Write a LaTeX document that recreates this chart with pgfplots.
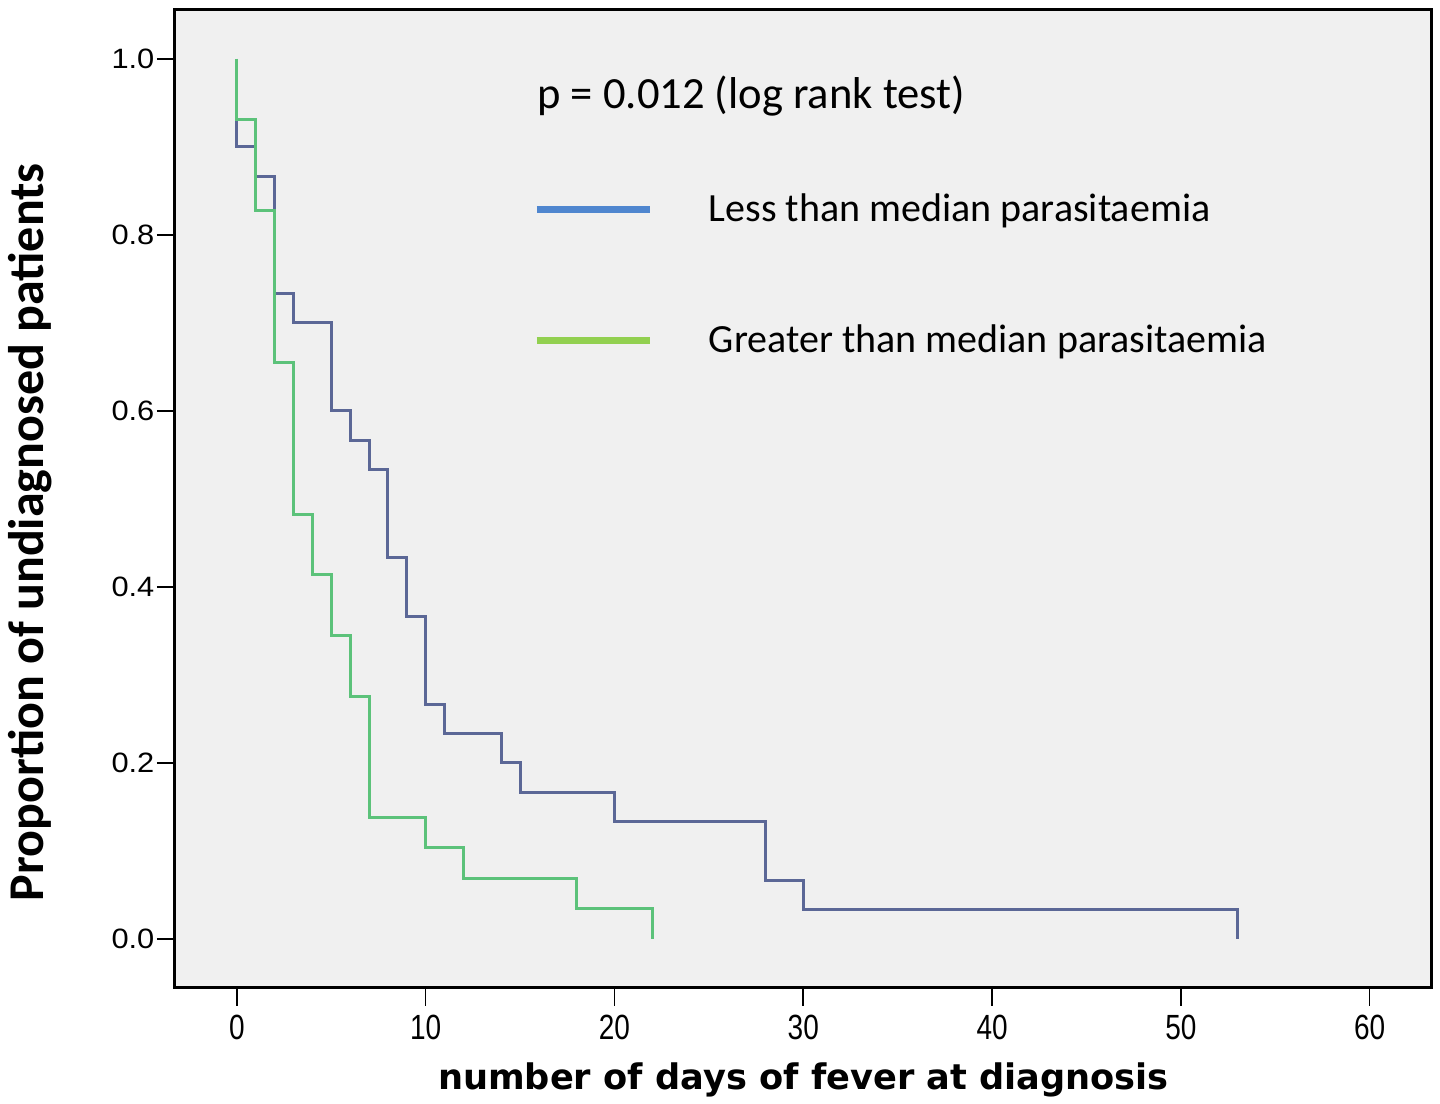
\documentclass[border=0pt]{standalone}
\usepackage{fontspec}
\usepackage{pgfplots}
\pgfplotsset{compat=1.18}
\setmainfont{Carlito}
\newfontfamily\dejavu{DejaVu Sans}
\newfontfamily\tickfont{Liberation Sans}

\definecolor{kmblue}{HTML}{5B6796}
\definecolor{kmgreen}{HTML}{5CC27A}
\definecolor{legblue}{HTML}{4F86CF}
\definecolor{leggreen}{HTML}{92D050}
\definecolor{panel}{HTML}{F0F0F0}

\begin{document}
\begin{tikzpicture}
  \begin{axis}[
      width=628.5pt, height=489pt, scale only axis,
      xmin=-3.28, xmax=63.3, ymin=-0.0557, ymax=1.0557,
      xtick={0,10,...,60}, ytick={0,0.2,...,1.0},
      xtick pos=bottom, ytick pos=left,
      tick align=outside, major tick length=9pt,
      tick style={black, line width=0.8pt},
      axis line style={black, line width=1.5pt},
      axis background/.style={fill=panel},
      /pgf/number format/assume math mode=true,
      yticklabel style={/pgf/number format/fixed, /pgf/number format/fixed zerofill,
        /pgf/number format/precision=1, font=\tickfont\fontsize{14}{16}\selectfont,
        xscale=1.1, inner sep=1pt},
      xticklabel style={font=\tickfont\fontsize{14}{16}\selectfont, yscale=1.25},
      xlabel={number of days of fever at diagnosis},
      xlabel style={at={(axis description cs:0.5,-0.094)}, anchor=center,
        font=\dejavu\bfseries\fontsize{17.6}{20}\selectfont},
      ylabel={Proportion of undiagnosed patients},
      ylabel style={at={(axis description cs:-0.115,0.466)}, anchor=center,
        font=\bfseries\fontsize{25}{28}\selectfont},
      legend cell align=left,
      legend image code/.code={
        \draw[#1] (0pt,0pt) -- (56.5pt,0pt);
        \path[draw=none, fill=none] (0pt,-4pt) rectangle (86pt,4pt);},
      legend style={at={(axis description cs:0.2848,0.812)}, anchor=north west,
        draw=none, fill=none, row sep=50pt, inner sep=0pt,
        font=\fontsize{20}{24}\selectfont,
        nodes={inner sep=0pt}},
    ]
    % Kaplan-Meier curves (n = 30 below median, n = 29 above median)
    \addplot[kmblue, line width=1.5pt, const plot, forget plot] coordinates {
      (0,1) (0,0.9000) (1,0.8667) (2,0.7333) (3,0.7000) (5,0.6000)
      (6,0.5667) (7,0.5333) (8,0.4333) (9,0.3667) (10,0.2667)
      (11,0.2333) (14,0.2000) (15,0.1667) (20,0.1333) (28,0.0667)
      (30,0.0333) (53,0)
    };
    \addplot[kmgreen, line width=1.5pt, const plot, forget plot] coordinates {
      (0,1) (0,0.9310) (1,0.8276) (2,0.6552) (3,0.4828) (4,0.4138)
      (5,0.3448) (6,0.2759) (7,0.1379) (10,0.1034) (12,0.0690)
      (18,0.0345) (22,0)
    };
    \addlegendimage{legblue, line width=3.5pt}
    \addlegendentry{Less than median parasitaemia}
    \addlegendimage{leggreen, line width=3.5pt}
    \addlegendentry{Greater than median parasitaemia}
    \node[anchor=west, font=\fontsize{22.3}{26}\selectfont, inner sep=0pt]
      at (axis description cs:0.288,0.912) {p = 0.012 (log rank test)};
    \coordinate (bl) at (axis description cs:-0.1392,-0.1135);
    \coordinate (tr) at (axis description cs:1.0064,1.0102);
  \end{axis}
  \path (bl) rectangle (tr);
\end{tikzpicture}
\end{document}
